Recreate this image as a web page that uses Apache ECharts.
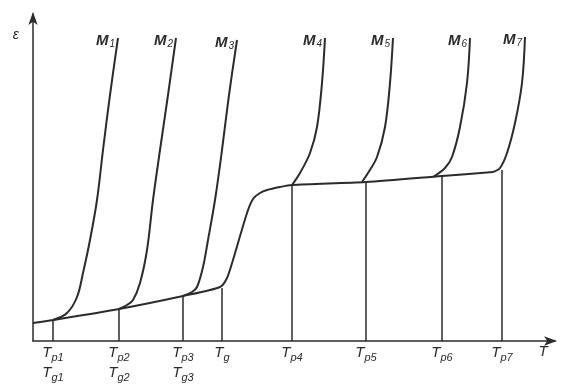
<!DOCTYPE html>
<html><head><meta charset="utf-8">
<script src="https://cdn.jsdelivr.net/npm/echarts@6/dist/echarts.min.js"></script>
<style>html,body{margin:0;padding:0;background:#fff}#c{width:562px;height:385px}</style>
</head><body><div id="c"></div>
<script>
// Strain (ε) vs temperature (T), arbitrary units
const mainCurve = [[0,18],[20,21],[86,32],[150,45],[187,54],[194,63],[200,81],[214,128],[220,142],[227,148],[234,151],[247,154],[259,156],[333,159],[409,165],[460,169]];
const M1 = [[20,21],[34,28],[44,44],[50,68],[57,101],[64,141],[70,191],[77,246],[85,303]];
const M2 = [[86,32],[94,36],[100,41],[107,58],[114,91],[120,141],[127,191],[135,246],[143,303]];
const M3 = [[150,45],[159,49],[164,54],[170,74],[175,101],[182,141],[189,191],[196,246],[204,301]];
const M4 = [[259,156],[267,168],[277,188],[284,214],[289,258],[292,303]];
const M5 = [[329,159],[335,168],[344,184],[352,214],[357,258],[360,303]];
const M6 = [[400,164],[412,173],[419,184],[427,214],[434,258],[437,303]];
const M7 = [[460,169],[467,173],[474,188],[482,218],[489,258],[492,304]];
const branchNames = ['1','2','3','4','5','6','7'];
const dropX = [20,86,150,189,259,333,409,469];
const dropTop = [21,32,45,53,157,159,165,171];
const tickLabels = ['{T|T}{s|p1}\n{T|T}{s|g1}','{T|T}{s|p2}\n{T|T}{s|g2}','{T|T}{s|p3}\n{T|T}{s|g3}','{T|T}{s|g}\n ','{T|T}{s|p4}\n ','{T|T}{s|p5}\n ','{T|T}{s|p6}\n ','{T|T}{s|p7}\n '];
const axisEndX = 510, axisEndLabel = '{T|T}\n ';
const epsY = 306;

const ink = '#2b2b2b';
const font = 'Liberation Sans, Arial, sans-serif';
const rich = {
  T:{fontSize:15,fontStyle:'italic',fontFamily:font,color:ink,lineHeight:18},
  s:{fontSize:11,fontStyle:'italic',fontFamily:font,color:ink,padding:[9,0,0,0]}
};
const branches = [M1,M2,M3,M4,M5,M6,M7];
const series = [{
  type:'line', data:mainCurve, smooth:0.25, showSymbol:false, silent:true,
  lineStyle:{color:ink,width:2}
}];
branches.forEach((b,i)=>{
  series.push({type:'line',data:b,smooth:0.35,showSymbol:false,silent:true,
    lineStyle:{color:ink,width:2},
    endLabel:{show:true,formatter:'{M|M}{s|'+branchNames[i]+'}',align:'right',offset:[-11,3],
      rich:{M:{fontSize:15,fontStyle:'italic',fontWeight:'bold',fontFamily:font,color:ink,lineHeight:18},
            s:{fontSize:10,fontStyle:'italic',fontFamily:font,color:ink,padding:[7,0,0,1]}}}});
});
series.push({type:'line',data:[],silent:true,
  markLine:{silent:true,symbol:'none',label:{show:false},lineStyle:{color:ink,width:1.5,type:'solid'},
    data:dropX.map((x,i)=>[{coord:[x,0]},{coord:[x,dropTop[i]]}])}});

const chart = echarts.init(document.getElementById('c'));
chart.setOption({
  animation:false,
  grid:{left:33,right:7,top:14,bottom:44},
  xAxis:{type:'value',min:0,max:522,splitLine:{show:false},axisTick:{show:false},
    axisLine:{lineStyle:{color:ink,width:1.5},symbol:['none','arrow'],symbolSize:[7,13],symbolOffset:[0,2]},
    axisLabel:{customValues:dropX.concat([axisEndX]),margin:2,formatter:v=>{
      if(v===axisEndX) return axisEndLabel;
      return tickLabels[dropX.indexOf(v)];},rich:rich}},
  yAxis:{type:'value',min:0,max:327,splitLine:{show:false},axisTick:{show:false},
    axisLine:{lineStyle:{color:ink,width:1.5},symbol:['none','arrow'],symbolSize:[7,13],symbolOffset:[0,2]},
    axisLabel:{customValues:[epsY],margin:14,formatter:()=> 'ε',fontSize:14,fontStyle:'italic',fontFamily:font,color:ink}},
  series:series
});
</script></body></html>
